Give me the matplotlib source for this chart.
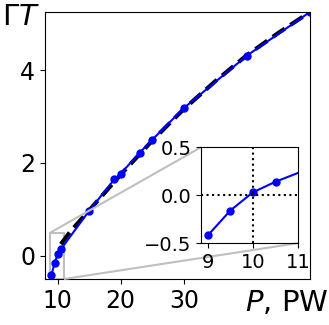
import matplotlib
matplotlib.use('Agg')
import matplotlib.pyplot as plt
from mpl_toolkits.axes_grid1.inset_locator import mark_inset

# measured points
P = [9.0, 9.5, 10.0, 10.5, 15.0, 19.0, 20.0, 23.0, 25.0, 30.0, 40.0, 50.0]
GT = [-0.42, -0.16, 0.03, 0.14, 0.97, 1.65, 1.77, 2.22, 2.50, 3.18, 4.31, 5.25]

# fit curve
P_fit = [10.5, 12.0, 15.0, 20.0, 25.0, 30.0, 35.0, 40.0, 45.0, 50.0]
GT_fit = [0.25, 0.52, 0.98, 1.75, 2.48, 3.16, 3.76, 4.32, 4.80, 5.25]

xticks = [10, 20, 30]
yticks = [0, 2, 4]
in_xticks = [9, 10, 11]
in_yticks = [-0.5, 0.0, 0.5]

plt.rcParams['font.size'] = 17
fig = plt.figure(figsize=(3.29, 3.25), dpi=100)
ax = fig.add_axes([0.137, 0.1415, 0.805, 0.8215])

ax.plot(P_fit, GT_fit, color='black', linestyle=(0, (3.5, 1.6)), linewidth=3)
ax.plot(P, GT, color='blue', marker='o', markersize=5, linewidth=1.5)
ax.set_xlim(8, 50)
ax.set_ylim(-0.5, 5.25)
ax.set_xticks(xticks)
ax.set_yticks(yticks)
ax.tick_params(labelsize=17)
fig.text(2 / 329, 1 - 25 / 325, r'$\Gamma T$', ha='left', va='baseline', fontsize=21)
fig.text(245 / 329, 1 - 311 / 325, r'$P$, PW', ha='left', va='baseline', fontsize=21)

axins = fig.add_axes([0.611, 0.252, 0.295, 0.295])
axins.plot(P, GT, color='blue', marker='o', markersize=5, linewidth=1.5)
axins.axhline(0, color='black', linestyle=':', linewidth=1.5)
axins.axvline(10, color='black', linestyle=':', linewidth=1.5)
axins.set_xlim(8.85, 11)
axins.set_ylim(-0.5, 0.5)
axins.set_xticks(in_xticks)
axins.set_yticks(in_yticks)
axins.tick_params(labelsize=14)

mark_inset(ax, axins, loc1=2, loc2=4, fc='none', ec='0.75', linewidth=1.5)

fig.savefig('out.png', dpi=100)
